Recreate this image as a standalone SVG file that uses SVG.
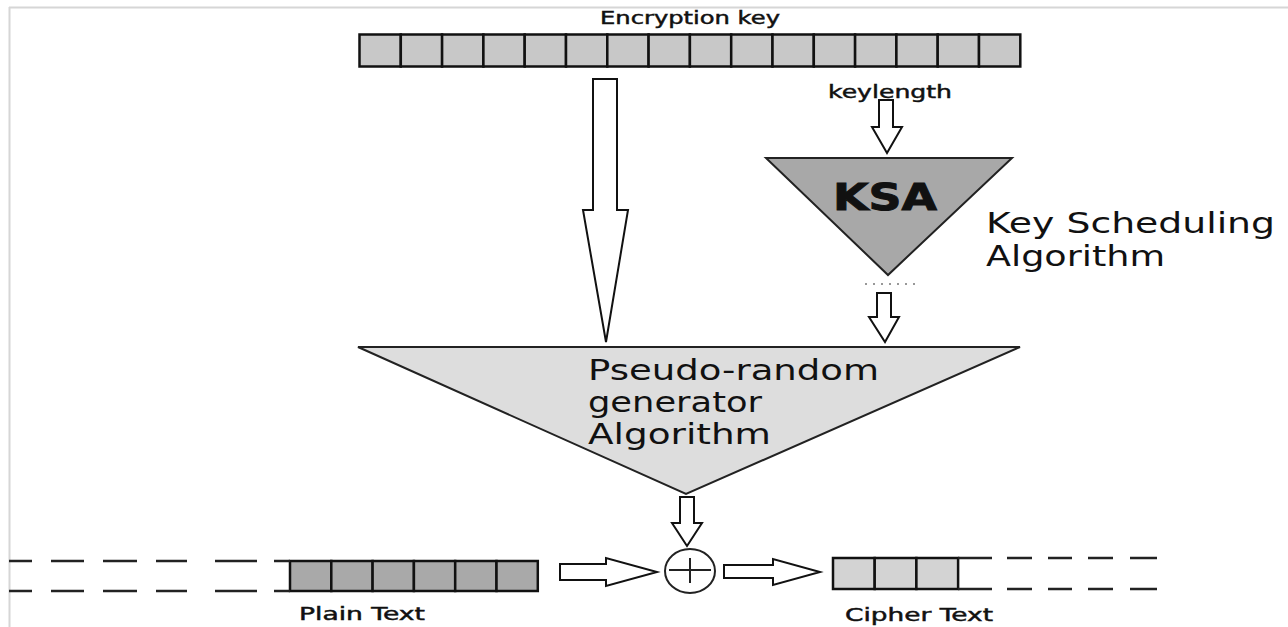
<svg xmlns="http://www.w3.org/2000/svg" width="1288" height="627" viewBox="0 0 1288 627">
<style>
.cell{stroke:#111;stroke-width:2.5}
.tri{stroke:#222;stroke-width:2}
.arr{fill:#fff;stroke:#111;stroke-width:2;stroke-linejoin:miter}
.lbl{font-family:"DejaVu Sans",Verdana,sans-serif;fill:#111}
.sm{font-size:17px;stroke:#111;stroke-width:0.45}
.dash{stroke:#222;stroke-width:2.5}
</style>
<rect width="1288" height="627" fill="#fff"/>
<g id="frame" fill="none" stroke="#d6d6d6" stroke-width="2">
<line x1="9" y1="7.5" x2="1288" y2="7.5"/>
<line x1="9.5" y1="7" x2="9.5" y2="627"/>
</g>
<g id="encryption-key">
<text class="lbl sm" x="690" y="24" text-anchor="middle" textLength="180" lengthAdjust="spacingAndGlyphs">Encryption key</text>
<g fill="#c8c8c8" class="cell">
<rect x="359.5" y="34.5" width="41.3" height="32"/>
<rect x="400.8" y="34.5" width="41.3" height="32"/>
<rect x="442.1" y="34.5" width="41.3" height="32"/>
<rect x="483.4" y="34.5" width="41.3" height="32"/>
<rect x="524.7" y="34.5" width="41.3" height="32"/>
<rect x="566.0" y="34.5" width="41.3" height="32"/>
<rect x="607.3" y="34.5" width="41.3" height="32"/>
<rect x="648.6" y="34.5" width="41.3" height="32"/>
<rect x="689.9" y="34.5" width="41.3" height="32"/>
<rect x="731.2" y="34.5" width="41.3" height="32"/>
<rect x="772.5" y="34.5" width="41.3" height="32"/>
<rect x="813.8" y="34.5" width="41.3" height="32"/>
<rect x="855.1" y="34.5" width="41.3" height="32"/>
<rect x="896.4" y="34.5" width="41.3" height="32"/>
<rect x="937.7" y="34.5" width="41.3" height="32"/>
<rect x="979.0" y="34.5" width="41.3" height="32"/>
</g>
</g>
<g id="ksa">
<polygon class="tri" points="766,158 1012,158 888,275" fill="#a8a8a8"/>
<text class="lbl" x="885" y="210" font-size="38" font-weight="bold" stroke="#111" stroke-width="1" text-anchor="middle" textLength="104" lengthAdjust="spacingAndGlyphs">KSA</text>
<text class="lbl" x="986" y="233" font-size="28" textLength="289" lengthAdjust="spacingAndGlyphs">Key Scheduling</text>
<text class="lbl" x="986" y="266" font-size="28" textLength="179" lengthAdjust="spacingAndGlyphs">Algorithm</text>
<line x1="865" y1="284" x2="915" y2="284" stroke="#777" stroke-width="1.5" stroke-dasharray="2 6"/>
</g>
<g id="prga">
<polygon class="tri" points="358,347 1020,347 686,494" fill="#dddddd"/>
<text class="lbl" x="588" y="380" font-size="29" textLength="291" lengthAdjust="spacingAndGlyphs">Pseudo-random</text>
<text class="lbl" x="588" y="412" font-size="29" textLength="174" lengthAdjust="spacingAndGlyphs">generator</text>
<text class="lbl" x="588" y="444" font-size="29" textLength="183" lengthAdjust="spacingAndGlyphs">Algorithm</text>
</g>
<g id="xor" fill="none" stroke="#222" stroke-width="2">
<ellipse cx="690" cy="571" rx="25" ry="22" fill="#fff"/>
<line x1="669" y1="570" x2="711" y2="570"/>
<line x1="690" y1="558" x2="690" y2="583"/>
</g>
<g id="plain-text">
<g fill="#a9a9a9" class="cell">
<rect x="290" y="561" width="41.3" height="30"/>
<rect x="331.3" y="561" width="41.3" height="30"/>
<rect x="372.6" y="561" width="41.3" height="30"/>
<rect x="413.9" y="561" width="41.3" height="30"/>
<rect x="455.2" y="561" width="41.3" height="30"/>
<rect x="496.5" y="561" width="41.3" height="30"/>
</g>
<g class="dash">
<path d="M9 561H32M51 561H84M103 561H137M156 561H187M215 561H257M274 561H290"/>
<path d="M9 591H32M51 591H84M103 591H137M156 591H187M215 591H257M274 591H290"/>
</g>
<text class="lbl sm" x="362" y="620" text-anchor="middle" textLength="126" lengthAdjust="spacingAndGlyphs">Plain Text</text>
</g>
<g id="cipher-text">
<g fill="#d3d3d3" class="cell">
<rect x="833" y="558" width="41.7" height="31"/>
<rect x="874.7" y="558" width="41.7" height="31"/>
<rect x="916.4" y="558" width="41.7" height="31"/>
</g>
<g class="dash">
<path d="M958 558H992M958 589H992"/>
<path d="M1007 558H1032M1048 558H1072M1088 558H1113M1130 558H1157"/>
<path d="M1007 589H1032M1048 589H1072M1088 589H1113M1130 589H1157"/>
</g>
<text class="lbl sm" x="919" y="621" text-anchor="middle" textLength="148" lengthAdjust="spacingAndGlyphs">Cipher Text</text>
</g>
<g id="connectors">
<polygon class="arr" points="593,79 617,79 617,210 628,210 606,342 583,210 593,210"/>
<text class="lbl sm" x="890" y="98" text-anchor="middle" textLength="124" lengthAdjust="spacingAndGlyphs">keylength</text>
<polygon class="arr" points="879,100 893,100 893,127 902,127 887,153 872,127 879,127"/>
<polygon class="arr" points="877,293 891,293 891,317 899,317 885,342 869,317 877,317"/>
<polygon class="arr" points="680,497 694,497 694,523 702,523 687,546 672,523 680,523"/>
<polygon class="arr" points="560,564 606,564 606,558 657,572 606,586 606,580 560,580"/>
<polygon class="arr" points="724,565 773,565 773,559 820,572 773,585 773,578 724,578"/>
</g>
</svg>
